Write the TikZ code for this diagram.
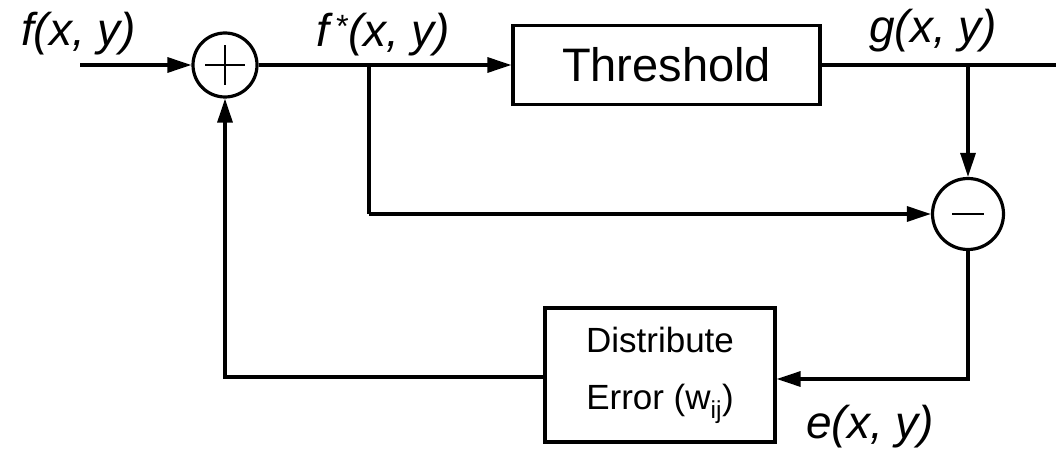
\documentclass[tikz,border=0pt]{standalone}
\usepackage{fontspec}
\setmainfont{Liberation Sans}
\usetikzlibrary{arrows.meta}
\begin{document}
\begin{tikzpicture}[x=1pt,y=-1pt,
  line/.style={line width=3.2pt},
  sign/.style={line width=2.6pt},
  arr/.style={line, -{Triangle[length=24pt,width=15pt]}},
  sumnode/.style={circle, draw, line width=3.2pt, inner sep=0pt},
  block/.style={draw, line width=3.2pt, inner sep=0pt},
  lbl/.style={font=\fontsize{46}{50}\selectfont\itshape, anchor=base west, inner sep=0pt}]
\useasboundingbox (0,0) rectangle (1056,449);
% nodes
\node[sumnode, minimum size=64pt] (plus) at (225,65) {};
\node[block, minimum width=307pt, minimum height=79pt, font=\fontsize{47}{50}\selectfont] (thr) at (666.5,65) {Threshold};
\node[sumnode, minimum size=71pt] (minus) at (968,214) {};
\node[block, minimum width=230pt, minimum height=134pt, align=center, font=\fontsize{35}{57}\selectfont] (dist) at (660,375) {Distribute\\Error (w\textsubscript{ij})};
% signs
\draw[sign] ([xshift=-20pt]plus.center) -- ([xshift=20pt]plus.center);
\draw[sign] ([yshift=-20pt]plus.center) -- ([yshift=20pt]plus.center);
\draw[sign] ([xshift=-16pt]minus.center) -- ([xshift=16pt]minus.center);
% coordinates
\coordinate (in) at (80,65);
\coordinate (out) at (1056,65);
\coordinate (fb) at (369,65);
\coordinate (fbd) at (369,214);
\coordinate (ec) at (968,379);
\coordinate (fbl) at (225,377);
% connectors
\draw[arr] (in) -- (plus.west);
\draw[arr] (plus.east) -- (plus.east -| thr.west);
\draw[line] (thr.east) -- (out);
\draw[line] (fb) -- (fbd);
\draw[arr] (fbd) -- (minus.west);
\draw[arr] (minus.north |- out) -- (minus.north);
\draw[arr] (minus.south) -- (ec) -- (ec -| dist.east);
\draw[arr] (dist.west |- fbl) -- (fbl) -- (plus.south);
% labels
\node[lbl] (lf) at (21,46) {f(x, y)};
\node[lbl] (lfs) at (316,47) {f\hspace{6pt}\textsuperscript{*}(x, y)};
\node[lbl] (lg) at (869,43) {g(x, y)};
\node[lbl] (le) at (806,438) {e(x, y)};
\end{tikzpicture}
\end{document}
